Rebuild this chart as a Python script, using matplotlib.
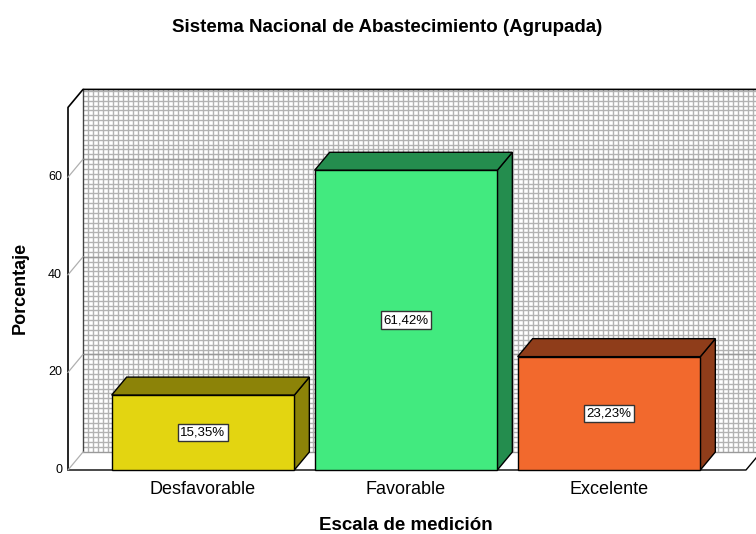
import matplotlib
matplotlib.use("Agg")
import matplotlib.pyplot as plt
from matplotlib.patches import Rectangle, Polygon
from matplotlib.collections import LineCollection
import numpy as np

plt.rcParams['font.family'] = ['Liberation Sans', 'DejaVu Sans']

# data
categories = ['Desfavorable', 'Favorable', 'Excelente']
porcentajes = [15.35, 61.42, 23.23]
front_colors = ['#E3D511', '#42EA7F', '#F2692D']
dark_colors = ['#8C8308', '#248D4E', '#8F3D1A']
y_ticks = [0, 20, 40, 60]

# geometry (data units: x = category index, y = percent)
PX_X = 203.0      # pixels per category
PX_Y = 4.88       # pixels per percent
DX = 15 / PX_X    # depth offset
DY = 18 / PX_Y
YMAX = 74.3
X0 = (68 - 203) / PX_X
XR = (746 - 203) / PX_X
BW = 0.45

fig = plt.figure(figsize=(7.56, 5.34), dpi=100)
ax = fig.add_axes([0, 0, 1, 1])
ax.set_xlim(-1.0, (756 - 203) / PX_X)
ax.set_ylim(-64 / PX_Y, 470 / PX_Y)
ax.axis('off')

# back wall grid
xb = X0 + DX
xend = 3.0
grid_c = '#b2b2b2'
hlines = [[(xb, k + DY), (xend, k + DY)] for k in range(1, int(YMAX) + 1)]
ax.add_collection(LineCollection(hlines, colors=grid_c, lw=1.0, zorder=1))
vx = np.arange(xb, xend, 5.0 / PX_X)
vlines = [[(x, DY), (x, YMAX + DY)] for x in vx[1:]]
ax.add_collection(LineCollection(vlines, colors=grid_c, lw=1.0, zorder=1))
major = [[(xb, k + DY), (xend, k + DY)] for k in y_ticks[1:]]
ax.add_collection(LineCollection(major, colors='#999999', lw=1.0, zorder=1))

# walls outline
ax.plot([xb, xb], [DY, YMAX + DY], color='#444444', lw=1.0, zorder=2)
ax.plot([X0, X0, xb, xend], [0, YMAX, YMAX + DY, YMAX + DY], color='black', lw=1.2, zorder=2)

# floor
floor = Polygon([(X0, 0), (XR, 0), (XR + DX, DY), (X0 + DX, DY)], closed=True,
                fc='white', ec='none', zorder=2)
ax.add_patch(floor)
ax.plot([X0 + DX, xend], [DY, DY], color='#9a9a9a', lw=1.0, zorder=2)
ax.plot([X0, XR, XR + DX], [0, 0, DY], color='black', lw=1.0, zorder=2)

# tick diagonals and labels
for t in y_ticks:
    ax.plot([X0, X0 + DX], [t, t + DY], color='#b0b0b0', lw=0.9, zorder=2)
    ax.text((62 - 203) / PX_X, t, str(t), ha='right', va='center', fontsize=9)

# bars
for i, (v, fc, dc) in enumerate(zip(porcentajes, front_colors, dark_colors)):
    l, r = i - BW, i + BW
    ax.add_patch(Polygon([(r, 0), (r + DX, DY), (r + DX, v + DY), (r, v)],
                         closed=True, fc=dc, ec='black', lw=1.0, zorder=3))
    ax.add_patch(Polygon([(l, v), (r, v), (r + DX, v + DY), (l + DX, v + DY)],
                         closed=True, fc=dc, ec='black', lw=1.0, zorder=3))
    ax.add_patch(Rectangle((l, 0), 2 * BW, v, fc=fc, ec='black', lw=1.0, zorder=4))
    ax.text(i, v / 2, f"{v:.2f}%".replace('.', ','), ha='center', va='center',
            fontsize=9.5, zorder=5,
            bbox=dict(boxstyle='square,pad=0.2', fc='white', ec='#333333', lw=1.0))
    ax.text(i, -19 / PX_Y, categories[i], ha='center', va='center', fontsize=13)

fig.text(387 / 756, 1 - 28 / 534, 'Sistema Nacional de Abastecimiento (Agrupada)',
         ha='center', va='center', fontsize=13.5, fontweight='bold')
fig.text(406 / 756, 1 - 525 / 534, 'Escala de medición', ha='center', va='center',
         fontsize=13.5, fontweight='bold')
fig.text(20 / 756, 1 - 288 / 534, 'Porcentaje', ha='center', va='center',
         rotation=90, fontsize=13, fontweight='bold')

fig.savefig('out.png', dpi=100)
